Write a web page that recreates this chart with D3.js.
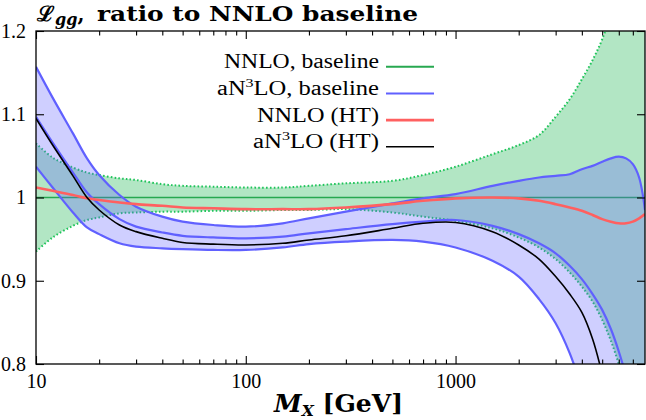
<!DOCTYPE html>
<html>
<head>
<meta charset="utf-8">
<script src="https://cdn.jsdelivr.net/npm/d3@7"></script>
<style>
  body{margin:0;background:#fff;}
  svg{display:block;}
</style>
</head>
<body>
<svg id="chart"></svg>
<script>
// mass grid (GeV) shared by every curve
const massGev = [10,12,15,17.5,20,25,30,40,50,70,100,150,200,300,500,700,1000,1500,2000,2500,3000,3500,4000,4500,5000,5500,6000,6500,7000,7500,8000];

// NNLO baseline uncertainty band (ratio to NNLO central)
const nnloUpper = [1.065,1.048,1.036,1.030,1.027,1.023,1.021,1.016,1.014,1.013,1.012,1.012,1.014,1.017,1.020,1.027,1.037,1.052,1.063,1.075,1.097,1.118,1.142,1.165,1.190,1.220,1.245,1.270,1.295,1.315,1.335];
const nnloLower = [0.935,0.952,0.966,0.973,0.976,0.981,0.982,0.983,0.983,0.984,0.984,0.985,0.985,0.986,0.982,0.977,0.972,0.963,0.952,0.940,0.926,0.910,0.893,0.875,0.853,0.828,0.800,0.770,0.735,0.700,0.660];

// aN3LO baseline: central + band
const n3loCentral = [1.097,1.066,1.030,1.006,0.992,0.974,0.965,0.958,0.954,0.952,0.951,0.953,0.957,0.962,0.968,0.971,0.973,0.966,0.956,0.945,0.933,0.918,0.902,0.884,0.865,0.842,0.815,0.785,0.750,0.710,0.670];
const n3loUpper = [1.157,1.120,1.077,1.047,1.027,1.003,0.989,0.977,0.971,0.967,0.965,0.969,0.975,0.983,0.993,0.999,1.004,1.014,1.020,1.024,1.026,1.028,1.034,1.038,1.043,1.047,1.049,1.047,1.040,1.024,0.985];
const n3loLower = [1.037,1.012,0.982,0.964,0.956,0.945,0.941,0.939,0.938,0.937,0.937,0.940,0.944,0.947,0.949,0.947,0.940,0.924,0.905,0.878,0.849,0.813,0.770,0.720,0.660,0.600,0.540,0.480,0.420,0.360,0.300];

// HT fits
const nnloHT = [1.012,1.008,1.003,0.999,0.997,0.994,0.992,0.990,0.988,0.987,0.986,0.986,0.986,0.988,0.992,0.996,0.999,1.000,0.999,0.996,0.992,0.988,0.984,0.979,0.974,0.971,0.969,0.969,0.971,0.975,0.980];
const n3loHT = [1.095,1.063,1.026,1.000,0.985,0.967,0.959,0.951,0.946,0.944,0.943,0.945,0.949,0.954,0.963,0.969,0.970,0.959,0.943,0.926,0.905,0.884,0.862,0.830,0.788,0.740,0.690,0.630,0.570,0.500,0.430];

// ticks and labels
const xMajor = [10,100,1000];
const xMinor = [20,30,40,50,60,70,80,90,200,300,400,500,600,700,800,900,2000,3000,4000,5000,6000,7000];
const yTicks = [0.8,0.9,1.0,1.1,1.2];
const legendLabels = ['NNLO, baseline','aN3LO, baseline','NNLO (HT)','aN3LO (HT)'];

const width = 646, height = 420;
const margin = {top:31, right:1, bottom:56, left:36};

const svg = d3.select('#chart').attr('width', width).attr('height', height);

const x = d3.scaleLog().domain([10, 8000]).range([margin.left, width - margin.right]);
const y = d3.scaleLinear().domain([0.8, 1.2]).range([height - margin.bottom, margin.top]);

svg.append('clipPath').attr('id','plotclip')
  .append('rect')
  .attr('x', margin.left).attr('y', margin.top)
  .attr('width', x.range()[1] - margin.left)
  .attr('height', y.range()[0] - margin.top);

const plot = svg.append('g').attr('clip-path','url(#plotclip)');

const idx = d3.range(massGev.length);
const smooth = d3.curveCatmullRom.alpha(0.5);
const band = (lo, hi) => d3.area()
  .x(i => x(massGev[i])).y0(i => y(lo[i])).y1(i => y(hi[i]))
  .curve(smooth);
const line = vals => d3.line()
  .x(i => x(massGev[i])).y(i => y(vals[i]))
  .curve(smooth);

// green NNLO band
plot.append('path').attr('d', band(nnloLower, nnloUpper)(idx))
  .attr('fill','#b2e6c4');
[nnloUpper, nnloLower].forEach(v => {
  plot.append('path').attr('d', line(v)(idx))
    .attr('fill','none').attr('stroke','#1fc45a')
    .attr('stroke-width',2).attr('stroke-dasharray','1.6,2.2');
});
plot.append('line')
  .attr('x1', x(10)).attr('x2', x(8000)).attr('y1', y(1)).attr('y2', y(1))
  .attr('stroke','#27a850').attr('stroke-width',1.6);

// aN3LO band
plot.append('path').attr('d', band(n3loLower, n3loUpper)(idx))
  .attr('fill','rgba(96,96,255,0.3)');
[n3loUpper, n3loLower, n3loCentral].forEach(v => {
  plot.append('path').attr('d', line(v)(idx))
    .attr('fill','none').attr('stroke','#6060ff').attr('stroke-width',2.2);
});

plot.append('path').attr('d', line(nnloHT)(idx))
  .attr('fill','none').attr('stroke','#ff6060').attr('stroke-width',2.6);
plot.append('path').attr('d', line(n3loHT)(idx))
  .attr('fill','none').attr('stroke','#000').attr('stroke-width',1.6);

// axes (ticks inward on all four sides)
const xBottom = y.range()[0], xTop = margin.top, yRight = x.range()[1];
const fmtY = d => d === 1 ? '1' : d.toFixed(1);

svg.append('g').attr('transform',`translate(0,${xBottom})`)
  .call(d3.axisBottom(x).tickValues(xMajor).tickSizeInner(-8).tickSizeOuter(0)
        .tickPadding(10).tickFormat(d3.format('d')));
svg.append('g').attr('transform',`translate(0,${xBottom})`)
  .call(d3.axisBottom(x).tickValues(xMinor).tickSizeInner(-4.5).tickSizeOuter(0).tickFormat(''));
svg.append('g').attr('transform',`translate(0,${xTop})`)
  .call(d3.axisTop(x).tickValues(xMajor).tickSizeInner(-8).tickSizeOuter(0).tickFormat(''));
svg.append('g').attr('transform',`translate(0,${xTop})`)
  .call(d3.axisTop(x).tickValues(xMinor).tickSizeInner(-4.5).tickSizeOuter(0).tickFormat(''));
svg.append('g').attr('transform',`translate(${margin.left},0)`)
  .call(d3.axisLeft(y).tickValues(yTicks).tickSizeInner(-8).tickSizeOuter(0)
        .tickPadding(10).tickFormat(fmtY));
svg.append('g').attr('transform',`translate(${yRight},0)`)
  .call(d3.axisRight(y).tickValues(yTicks).tickSizeInner(-8).tickSizeOuter(0).tickFormat(''));

svg.selectAll('.domain').remove();
svg.selectAll('.tick line').attr('stroke','#000').attr('stroke-width',1.1);
svg.selectAll('.tick text')
  .attr('font-family','"Liberation Serif", serif')
  .attr('font-size',20).attr('fill','#000');

// frame
svg.append('rect')
  .attr('x', margin.left).attr('y', margin.top)
  .attr('width', yRight - margin.left).attr('height', xBottom - margin.top)
  .attr('fill','none').attr('stroke','#000').attr('stroke-width',1.3);

// legend
const legendColors = ['#27a850','#6060ff','#ff6060','#000'];
const legendWidths = [155,162,122,126];
const legend = svg.append('g');
legendLabels.forEach((lab, i) => {
  const ly = 66.7 + i * 26.7;
  const t = legend.append('text')
    .attr('x', 379).attr('y', ly + 1.5)
    .attr('text-anchor','end')
    .attr('font-family','"Liberation Serif", serif')
    .attr('font-size',20)
    .attr('textLength', legendWidths[i]).attr('lengthAdjust','spacingAndGlyphs');
  const m = lab.match(/^(.*N)3(LO.*)$/);
  if (m) {
    t.append('tspan').text(m[1]);
    t.append('tspan').text('3').attr('font-size',13).attr('dy',-8);
    t.append('tspan').text(m[2]).attr('dy',8);
  } else {
    t.text(lab);
  }
  legend.append('line')
    .attr('x1', 386).attr('x2', 434).attr('y1', ly).attr('y2', ly)
    .attr('stroke', legendColors[i])
    .attr('stroke-width', i === 3 ? 1.6 : (i === 2 ? 2.6 : 2));
});

// title
const title = svg.append('text')
  .attr('x', 37).attr('y', 21)
  .attr('font-family','"DejaVu Serif", serif').attr('font-weight','bold');
title.append('tspan').text('ℒ').attr('font-size',21);
title.append('tspan').text('gg').attr('font-style','italic').attr('font-size',16).attr('dy',4);
title.append('tspan').text(',').attr('font-size',20).attr('dy',-4);
svg.append('text')
  .attr('x', 97).attr('y', 21)
  .attr('font-family','"DejaVu Serif", serif').attr('font-weight','bold')
  .attr('font-size',20)
  .attr('textLength',321).attr('lengthAdjust','spacingAndGlyphs')
  .text('ratio to NNLO baseline');

// x axis title
const xt = svg.append('text')
  .attr('x', 274).attr('y', 412)
  .attr('font-family','"DejaVu Serif", serif').attr('font-weight','bold')
  .attr('textLength',129).attr('lengthAdjust','spacingAndGlyphs');
xt.append('tspan').text('M').attr('font-style','italic').attr('font-size',24);
xt.append('tspan').text('X').attr('font-style','italic').attr('font-size',15).attr('dy',4);
xt.append('tspan').text(' [GeV]').attr('font-size',24).attr('dy',-4);
</script>
</body>
</html>
